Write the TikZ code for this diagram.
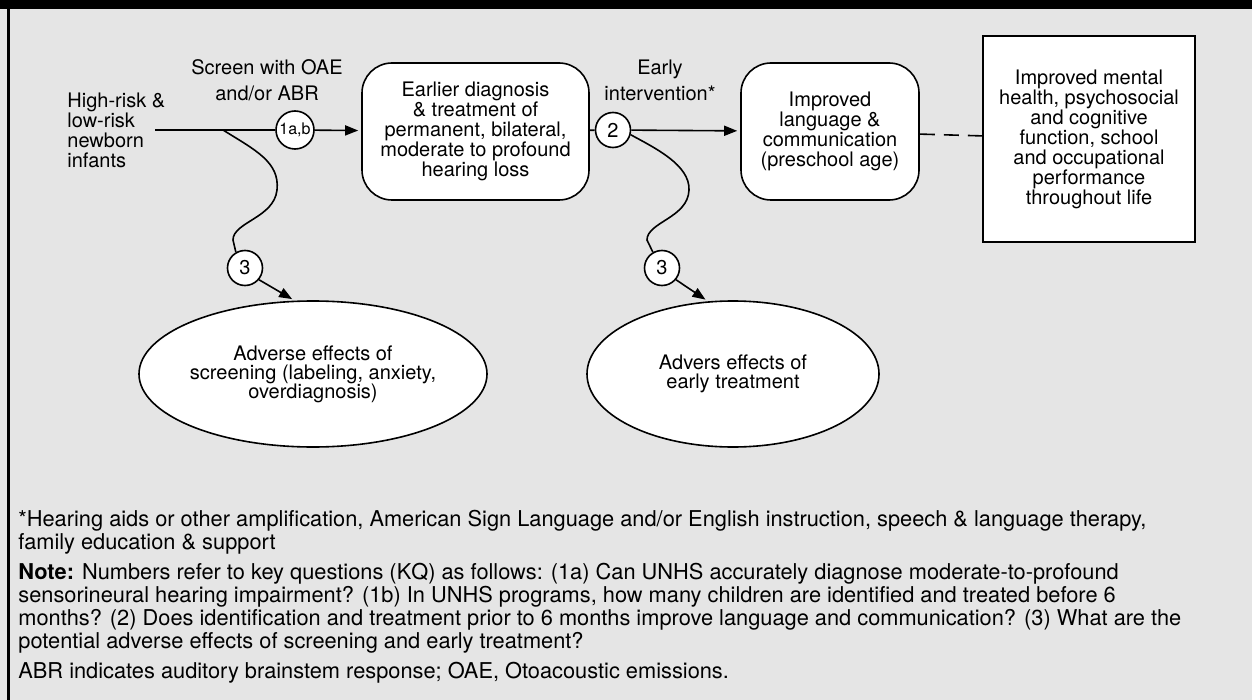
\documentclass[tikz,border=0pt]{standalone}
\usepackage{fontspec}
\setmainfont{TeX Gyre Heros}
\usetikzlibrary{arrows.meta,shapes.geometric}
\definecolor{panelgray}{RGB}{229,229,229}
\tikzset{
  stage/.style={draw,line width=0.8pt,fill=white,rounded corners=15pt,align=center,
    minimum width=#1,minimum height=68.5pt,inner sep=0pt,font=\fontsize{10}{10}\selectfont},
  outcome/.style={draw,line width=0.8pt,fill=white,align=center,minimum width=106pt,
    minimum height=103pt,inner sep=0pt,font=\fontsize{10}{10}\selectfont},
  harm/.style={ellipse,draw,line width=0.8pt,fill=white,align=center,minimum width=146pt,
    minimum height=73pt,inner sep=0pt,font=\fontsize{10}{9.5}\selectfont},
  kq/.style={circle,draw,line width=0.8pt,fill=white,minimum size=17.5pt,inner sep=0pt,
    font=\fontsize{10}{10}\selectfont},
  lbl/.style={align=center,font=\fontsize{10}{13}\selectfont},
  fn/.style={align=left,anchor=north west,inner sep=0pt,font=\fontsize{10.9}{11.5}\selectfont},
  link/.style={line width=0.8pt},
  arr/.style={link,-{Triangle[length=6.5pt,width=5pt]},shorten >=1.5pt}
}
\begin{document}
\begin{tikzpicture}[x=0.5pt,y=-0.5pt]
    \useasboundingbox (0,0) rectangle (1252,700);
    \fill [panelgray] (0,0) rectangle (1252,700);
    \fill [black] (0,0) rectangle (1252,9);
    \draw [line width=1.2pt] (8.5,9) -- (8.5,700);

    \node [align=left,anchor=west,inner sep=0pt,font=\fontsize{10}{10}\selectfont] (inf) at (67,130)
      {High-risk \&\\low-risk\\newborn\\infants};
    \node [lbl] (scr) at (267,80) {Screen with OAE\\and/or ABR};
    \node [lbl] (ei) at (660,80) {Early\\intervention*};

    \node [stage=113.5pt] (dx) at (475.5,131.5)
      {Earlier diagnosis\\\& treatment of\\permanent, bilateral,\\moderate to profound\\hearing loss};
    \node [stage=89pt] (lang) at (830,131.5)
      {Improved\\language \&\\communication\\(preschool age)};
    \node [outcome] (life) at (1089,139)
      {Improved mental\\health, psychosocial\\and cognitive\\function, school\\and occupational\\performance\\throughout life};

    \node [kq,minimum size=19pt,font=\fontsize{8}{8}\selectfont] (c1) at (295,130) {1a,b};
    \node [kq] (c2) at (613,130) {2};
    \node [kq] (c3a) at (245,268) {3};
    \node [kq] (c3b) at (662,268) {3};

    \node [harm] (adv1) at (313,374) {Adverse effects of\\screening (labeling, anxiety,\\overdiagnosis)};
    \node [harm] (adv2) at (733,374) {Advers effects of\\early treatment};

    \coordinate (start) at (155,130);
    \coordinate (w1) at (223,130);

    \draw [link] (start) -- (c1);
    \draw [arr] (c1) -- (dx);
    \draw [link] (dx) -- (c2);
    \draw [arr] (c2) -- (lang);
    \draw [link,dash pattern=on 7.5pt off 4.5pt] (lang) -- (life);

    \draw [link] (w1) .. controls (255,150) and (280,162) .. (277,190)
      .. controls (274,218) and (233,222) .. (233,240) -- (c3a.120);
    \draw [link] (c2.-15) .. controls (655,148) and (690,165) .. (689,190)
      .. controls (688,218) and (647,222) .. (647,240) -- (c3b.120);
    \draw [arr] (c3a.-40) -- (adv1.104);
    \draw [arr] (c3b.-40) -- (adv2.109);

    \node [fn] (fnote) at (18,510)
      {*Hearing aids or other amplification, American Sign Language and/or English instruction, speech \& language therapy,\\
       family education \& support};
    \node [fn] (note) at (18,563)
      {\textbf{Note:} Numbers refer to key questions (KQ) as follows: (1a) Can UNHS accurately diagnose moderate-to-profound\\
       sensorineural hearing impairment? (1b) In UNHS programs, how many children are identified and treated before 6\\
       months? (2) Does identification and treatment prior to 6 months improve language and communication? (3) What are the\\
       potential adverse effects of screening and early treatment?};
    \node [fn] (abbr) at (18,662)
      {ABR indicates auditory brainstem response; OAE, Otoacoustic emissions.};
\end{tikzpicture}
\end{document}
